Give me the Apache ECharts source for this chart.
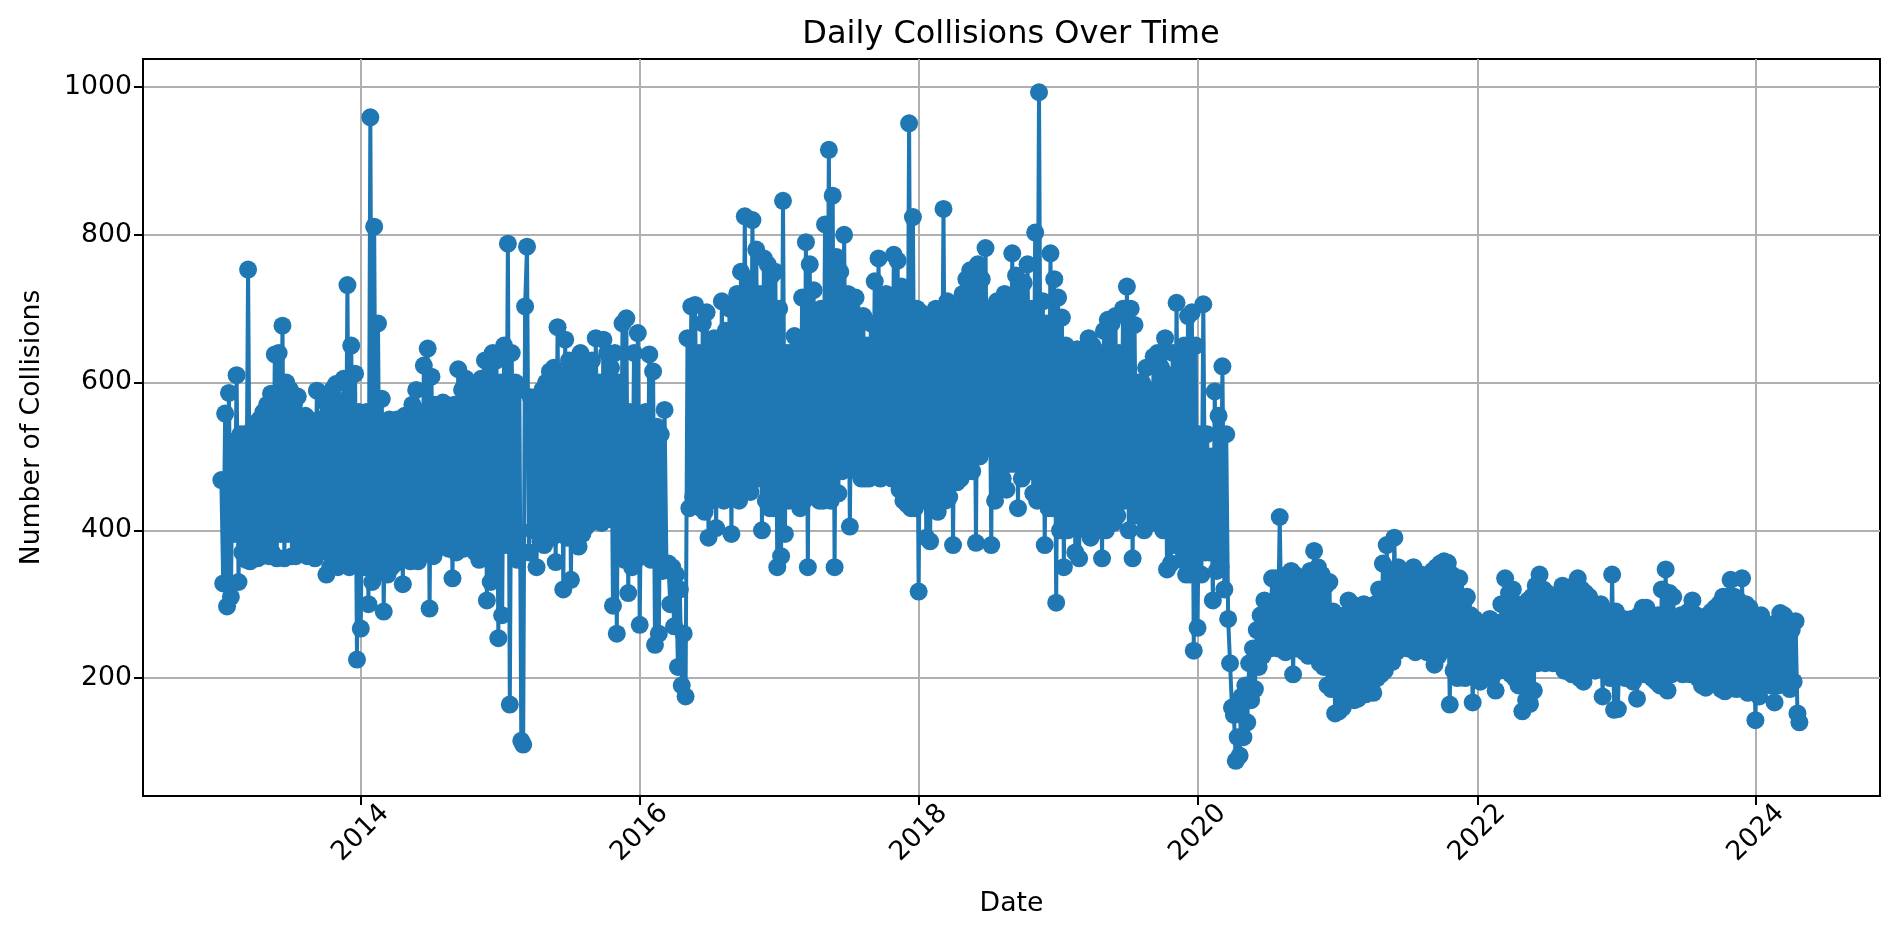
<!DOCTYPE html>
<html><head><meta charset="utf-8">
<script src="https://cdn.jsdelivr.net/npm/echarts@6/dist/echarts.min.js"></script>
<style>html,body{margin:0;padding:0;background:#fff}#c{width:1898px;height:937px}</style></head>
<body><div id="c"></div>
<script>
const stepDays = 5;
const yearTicks = [2014,2016,2018,2020,2022,2024];
const valueTicks = [200,400,600,800,1000];
const v2013 = [468,328,558,297,586,310,520,395,610,330,530,370,530,360,753,358,535,365,545,362,550,365,560,372,570,365,585,368,638,362,640,395,677,362,600,395,590,365,570,365,581,370,545,380,555,365,550,375,535,362,589,370,550,372,575,340,565,350,590,365,598,350,575,355,605,360,732,350,650,360,612,225,560];
const v2014 = [267,540,350,560,300,959,330,811,345,680,345,578,290,545,340,550,350,530,355,550,360,540,327,555,370,545,358,570,365,590,358,560,370,623,375,646,294,608,365,570,375,555,385,573,380,560,375,560,335,570,370,618,380,590,375,605,385,580,380,595,370,585,360,605,375,630,305,610,330,640,350,630,254];
const v2015 = [600,285,650,380,788,164,640,380,600,360,590,115,110,703,784,370,580,400,565,350,570,385,590,380,600,395,615,390,620,357,675,395,610,320,658,390,630,333,620,405,600,378,640,395,610,405,620,410,630,420,660,420,600,410,658,415,640,415,620,298,640,260,600,365,680,360,687,315,560,350,640,360,667];
const v2016 = [272,540,365,560,370,638,360,615,245,540,260,530,345,563,350,355,300,350,270,340,215,320,190,260,175,660,430,703,445,705,445,640,430,680,425,695,390,650,440,660,403,650,450,710,440,670,445,700,395,700,460,720,440,750,480,825,460,740,452,820,470,780,470,720,400,768,440,760,430,745,430,750,350];
const v2017 = [700,365,846,395,640,440,640,445,663,445,650,430,715,440,790,350,760,450,725,445,680,440,700,440,814,445,915,440,853,350,770,450,750,480,800,490,720,405,700,490,715,480,680,470,690,470,650,470,680,475,737,475,768,470,700,480,720,475,710,470,773,470,765,455,730,440,725,435,951,430,824,430,700];
const v2018 = [317,695,440,660,390,680,385,680,430,700,425,690,450,835,440,710,445,700,380,680,465,700,470,720,480,740,480,752,480,730,383,760,500,740,510,782,520,700,380,700,440,710,460,710,470,720,455,700,490,775,490,745,430,720,470,735,480,760,480,700,450,803,440,993,450,710,380,680,430,775,430,740,302];
const v2019 = [715,400,688,350,650,400,620,410,640,370,645,362,630,405,640,400,660,390,650,420,640,400,640,362,670,400,685,410,680,410,690,420,640,440,700,440,730,400,700,362,678,420,600,440,600,400,620,420,590,430,635,410,640,420,620,400,660,347,610,355,640,380,708,380,630,360,650,340,690,340,695,237,650];
const v2020 = [268,530,340,706,370,530,370,500,305,588,345,555,350,622,320,530,280,220,160,150,88,120,95,175,120,190,140,220,170,240,185,265,215,285,230,305,250,300,240,335,250,335,240,418,245,330,235,340,240,345,205,340,240,330,245,325,235,335,230,345,235,372,245,350,220,340,215,325,190,330,185,290,152];
const v2021 = [280,155,270,160,285,170,305,175,300,170,280,172,290,180,300,178,295,185,285,180,300,200,320,205,355,210,380,222,345,222,390,235,350,240,345,245,330,240,330,250,350,235,340,240,340,245,320,235,335,240,345,218,350,230,355,240,358,240,356,164,340,210,320,200,335,215,300,200,310,205,285,167,280];
const v2022 = [200,265,195,270,200,275,205,280,200,270,183,275,210,300,215,335,210,315,205,320,200,300,190,295,155,300,170,305,165,310,183,325,220,340,225,320,220,315,225,300,220,290,225,310,218,325,210,315,215,320,205,325,208,335,200,320,195,315,210,310,220,285,210,290,215,300,175,280,210,290,200,340,157];
const v2023 = [290,158,260,205,280,200,265,210,280,195,270,172,285,205,295,205,295,210,280,200,265,195,285,190,320,205,347,183,315,205,310,215,280,210,285,205,285,210,290,205,305,210,285,200,280,190,280,187,285,205,290,195,295,205,300,185,310,182,310,200,333,195,310,185,305,190,335,185,300,180,295,195,285];
const v2024 = [143,270,175,285,200,265,195,260,190,270,167,275,190,288,205,285,200,255,185,265,195,277,152,140];

const values = [].concat(v2013,v2014,v2015,v2016,v2017,v2018,v2019,v2020,v2021,v2022,v2023,v2024);
const t0 = Date.UTC(2013,0,1), DAY = 86400000;
const points = values.map((v,i)=>[t0 + i*stepDays*DAY, v]);
const xTickVals = yearTicks.map(y=>Date.UTC(y,0,1));

const font = 'DejaVu Sans';
const chart = echarts.init(document.getElementById('c'), null, {renderer:'canvas'});
chart.setOption({
  animation:false,
  backgroundColor:'#fff',
  title:{text:'Daily Collisions Over Time',left:1006,top:14,textAlign:'center',
    textStyle:{fontFamily:font,fontSize:32,fontWeight:'normal',color:'#000'}},
  grid:{left:143,right:18,top:59,bottom:141,show:true,borderColor:'#000',borderWidth:2,backgroundColor:'transparent',outerBoundsMode:'none'},
  xAxis:{type:'value',min:Date.UTC(2012,5,10),max:Date.UTC(2024,10,20),scale:true,
    name:'Date',nameLocation:'middle',nameGap:95,
    nameTextStyle:{fontFamily:font,fontSize:26.7,color:'#000'},
    axisLine:{show:true,lineStyle:{color:'#000',width:2}},
    axisTick:{show:true,length:9,lineStyle:{color:'#000',width:2},customValues:xTickVals},
    axisLabel:{show:true,rotate:45,fontFamily:font,fontSize:26.7,color:'#000',margin:37,align:'center',verticalAlign:'middle',
      customValues:xTickVals,hideOverlap:false,showMinLabel:true,showMaxLabel:true,formatter:v=>String(new Date(v).getUTCFullYear())},
    splitLine:{show:true,showMinLine:true,showMaxLine:true,lineStyle:{color:'#b0b0b0',width:2}}},
  yAxis:{type:'value',min:40.3,max:1038,
    name:'Number of Collisions',nameLocation:'middle',nameGap:97,
    nameTextStyle:{fontFamily:font,fontSize:26.7,color:'#000'},
    axisLine:{show:true,lineStyle:{color:'#000',width:2}},
    axisTick:{show:true,length:9,lineStyle:{color:'#000',width:2},customValues:valueTicks},
    axisLabel:{show:true,fontFamily:font,fontSize:26.7,color:'#000',margin:11,customValues:valueTicks,formatter:v=>String(v)},
    splitLine:{show:true,lineStyle:{color:'#b0b0b0',width:2}}},
  series:[{type:'line',data:points,symbol:'circle',symbolSize:18,showSymbol:true,showAllSymbol:true,
    smooth:false,clip:true,
    lineStyle:{color:'#1f77b4',width:4},itemStyle:{color:'#1f77b4'}}]
});
</script></body></html>
